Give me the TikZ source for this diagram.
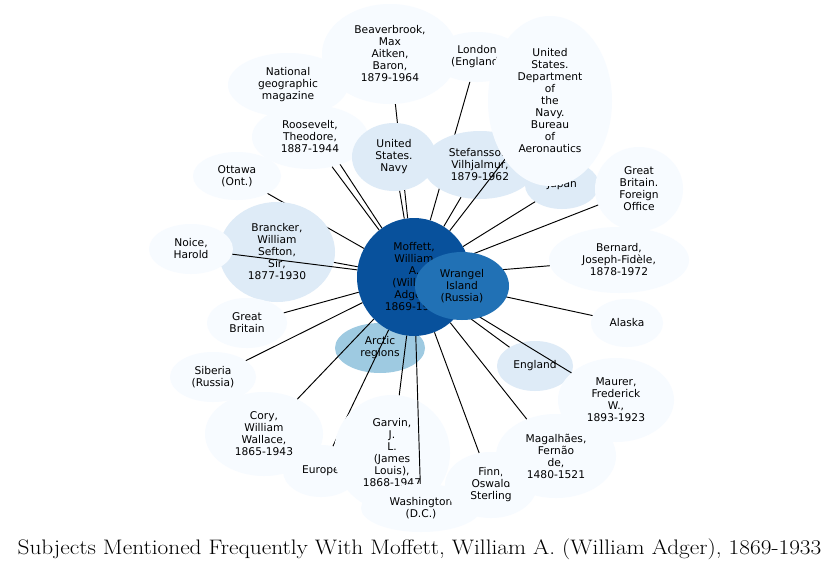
\documentclass[tikz,border=0pt]{standalone}
\usepackage{fontspec}
\newfontfamily\dvs{DejaVu Sans}
\usetikzlibrary{shapes.geometric}
\definecolor{cA}{HTML}{F7FBFF}
\definecolor{cB}{HTML}{DEEBF7}
\definecolor{cC}{HTML}{9ECAE1}
\definecolor{cD}{HTML}{2171B5}
\definecolor{cE}{HTML}{08519C}
\tikzset{
  bub/.style n args={3}{ellipse, minimum width=#1pt, minimum height=#2pt, inner sep=0pt,
    align=center, fill=#3, draw=none, text=black, font=\dvs\fontsize{10.67}{12}\selectfont},
  link/.style={draw=black, line width=0.95pt},
  titlefont/.style={font=\fontsize{21}{25}\selectfont, inner sep=0pt, anchor=base, xscale=1.11}
}
\begin{document}
\begin{tikzpicture}[x=1pt,y=-1pt]
\useasboundingbox[fill=white] (0,0) rectangle (839,570);

\node[bub={90}{50}{cC}] (arctic) at (380,348) {Arctic\\regions};
\node[bub={114}{118}{cE}] (moff) at (414,277) {Moffett,\\William\\A.\\(William\\Adger),\\1869-1933};

\node[bub={120}{64}{cA}] (natgeo) at (288,85) {National\\geographic\\magazine};
\draw[link] (moff) -- (natgeo);
\node[bub={116}{64}{cA}] (roos) at (310,137) {Roosevelt,\\Theodore,\\1887-1944};
\draw[link] (moff) -- (roos);
\node[bub={136}{100}{cA}] (beav) at (390,54) {Beaverbrook,\\Max\\Aitken,\\Baron,\\1879-1964};
\draw[link] (moff) -- (beav);
\node[bub={84}{68}{cB}] (usnavy) at (394,157) {United\\States.\\Navy};
\draw[link] (moff) -- (usnavy);
\node[bub={90}{50}{cA}] (london) at (477,57) {London\\(England)};
\draw[link] (moff) -- (london);
\node[bub={114}{68}{cB}] (stef) at (480,165) {Stefansson,\\Vilhjalmur,\\1879-1962};
\draw[link] (moff) -- (stef);
\node[bub={74}{48}{cB}] (japan) at (562,185) {Japan};
\draw[link] (moff) -- (japan);
\coordinate (usdc) at (550,101);
\draw[link] (moff) -- (usdc);
\node[bub={124}{170}{cA}] (usdept) at (usdc) {United\\States.\\Department\\of\\the\\Navy.\\Bureau\\of\\Aeronautics};
\node[bub={88}{84}{cA}] (gbfo) at (639,189) {Great\\Britain.\\Foreign\\Office};
\draw[link] (moff) -- (gbfo);
\node[bub={140}{66}{cA}] (bernard) at (619,260) {Bernard,\\Joseph-Fidèle,\\1878-1972};
\draw[link] (moff) -- (bernard);
\node[bub={72}{48}{cA}] (alaska) at (627,323) {Alaska};
\draw[link] (moff) -- (alaska);
\node[bub={88}{48}{cA}] (ottawa) at (237,176) {Ottawa\\(Ont.)};
\draw[link] (moff) -- (ottawa);
\node[bub={116}{100}{cB}] (brancker) at (277,252) {Brancker,\\William\\Sefton,\\Sir,\\1877-1930};
\draw[link] (moff) -- (brancker);
\node[bub={84}{50}{cA}] (noice) at (191,249) {Noice,\\Harold};
\draw[link] (moff) -- (noice);
\node[bub={80}{50}{cA}] (gb) at (247,323) {Great\\Britain};
\draw[link] (moff) -- (gb);
\node[bub={86}{50}{cA}] (siberia) at (213,377) {Siberia\\(Russia)};
\draw[link] (moff) -- (siberia);
\node[bub={118}{84}{cA}] (cory) at (264,434) {Cory,\\William\\Wallace,\\1865-1943};
\draw[link] (moff) -- (cory);
\node[bub={76}{52}{cA}] (europe) at (321,471) {Europe};
\draw[link] (moff) -- (europe);
\node[bub={116}{116}{cA}] (garvin) at (392,453) {Garvin,\\J.\\L.\\(James\\Louis),\\1868-1947};
\draw[link] (moff) -- (garvin);
\node[bub={120}{48}{cA}] (wash) at (421,508) {Washington\\(D.C.)};
\draw[link] (moff) -- (wash);
\node[bub={92}{66}{cA}] (finn) at (491,485) {Finn,\\Oswald\\Sterling};
\draw[link] (moff) -- (finn);
\node[bub={120}{84}{cA}] (magal) at (556,456) {Magalhães,\\Fernão\\de,\\1480-1521};
\draw[link] (moff) -- (magal);
\node[bub={76}{50}{cB}] (england) at (535,366) {England};
\draw[link] (moff) -- (england);
\node[bub={116}{84}{cA}] (maurer) at (616,400) {Maurer,\\Frederick\\W.,\\1893-1923};
\draw[link] (moff) -- (maurer);

\node[bub={94}{68}{cD}] (wrangel) at (462,286) {Wrangel\\Island\\(Russia)};

\node[titlefont] (title) at (419.5,554) {Subjects Mentioned Frequently With Moffett, William A. (William Adger), 1869-1933};
\end{tikzpicture}
\end{document}
